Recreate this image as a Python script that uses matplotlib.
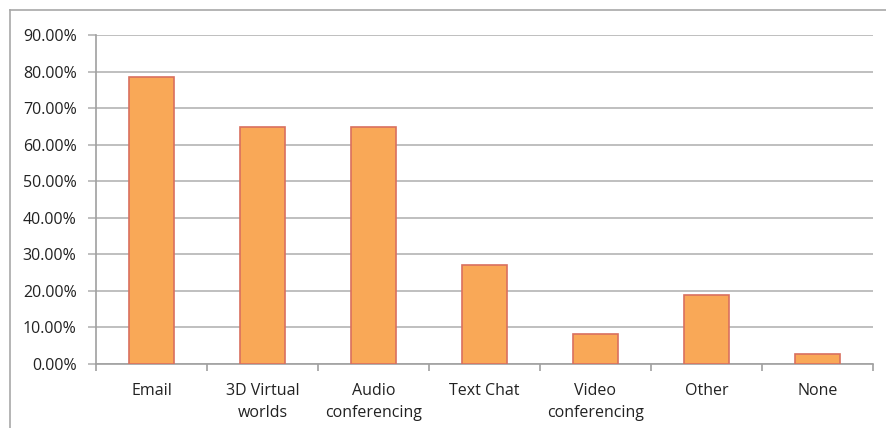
import matplotlib.pyplot as plt
from matplotlib.lines import Line2D
from matplotlib.ticker import FuncFormatter

# Data
categories = ['Email', '3D Virtual\nworlds', 'Audio\nconferencing', 'Text Chat',
              'Video\nconferencing', 'Other', 'None']
shares = [0.784, 0.649, 0.649, 0.270, 0.081, 0.189, 0.027]

plt.rcParams['font.family'] = ['Open Sans', 'DejaVu Sans']

fig = plt.figure(figsize=(8.87, 4.28), dpi=100)
ax = fig.add_axes([96/887, 1-364/428, 777/887, 329/428])

x = range(len(categories))
ax.bar(x, shares, width=0.4, color='#F9A857', edgecolor='#D9705F', linewidth=1.2, zorder=3)

ax.set_xlim(-0.5, len(categories) - 0.5)
ax.set_ylim(0, 0.9)
ax.set_yticks([i / 10 for i in range(10)])
ax.yaxis.set_major_formatter(FuncFormatter(lambda v, p: '%.2f%%' % (v * 100)))
ax.yaxis.grid(True, color='#B4B4B4', linewidth=1.2, zorder=0)

ax.set_xticks(list(x))
ax.set_xticklabels(categories, fontsize=11.5, color='#222222', linespacing=1.5)
ax.set_xticks([i - 0.5 for i in range(len(categories) + 1)], minor=True)
ax.tick_params(axis='x', which='major', length=0, pad=14)
ax.tick_params(axis='x', which='minor', length=5, color='#A0A0A0', width=1.2)
ax.tick_params(axis='y', length=6, color='#B4B4B4', width=1.2, labelsize=11.5,
               labelcolor='#222222', pad=8)

for s in ['top', 'right']:
    ax.spines[s].set_visible(False)
for s in ['left', 'bottom']:
    ax.spines[s].set_color('#A0A0A0')
    ax.spines[s].set_linewidth(1.2)

# Outer chart frame (cropped)
fig.add_artist(Line2D([10/887, 10/887], [0, 1-10/428], color='#A8A8A8', linewidth=1.2))
fig.add_artist(Line2D([10/887, 1], [1-10/428, 1-10/428], color='#A8A8A8', linewidth=1.2))

fig.savefig('out.png', dpi=100)
